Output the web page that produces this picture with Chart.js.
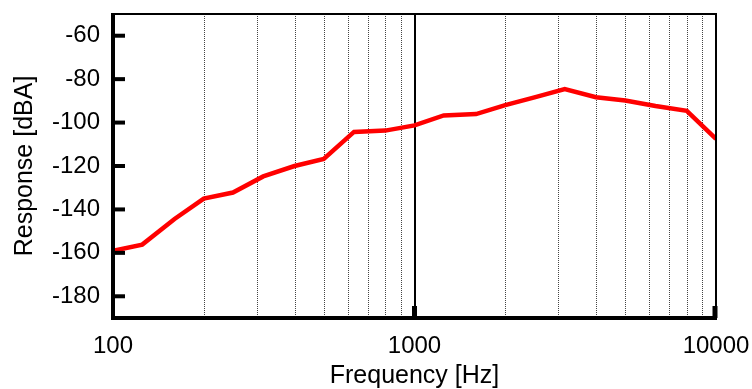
<!DOCTYPE html>
<html>
<head>
<meta charset="utf-8">
<script src="https://cdn.jsdelivr.net/npm/chart.js@4"></script>
<style>
  html, body { margin: 0; padding: 0; background: #fff; }
  #wrap { width: 752px; height: 389px; }
</style>
</head>
<body>
<div id="wrap"><canvas id="responseChart"></canvas></div>
<script>
// Measured response (1/3 octave bands)
const freqs = [100, 125, 160, 200, 250, 315, 400, 500, 630, 800, 1000, 1250, 1600, 2000, 2500, 3150, 4000, 5000, 6300, 8000, 10000];
const response = [-159, -156.2, -144.4, -135, -132.2, -124.8, -120, -116.7, -104.3, -103.7, -101.3, -96.7, -96.1, -92, -88.4, -84.6, -88.3, -89.8, -92.4, -94.6, -107.5];

// Axis ticks and grid
const xTicks = [100, 1000, 10000];
const yTicks = [-180, -160, -140, -120, -100, -80, -60];
const minorGrid = [200, 300, 400, 500, 600, 700, 800, 900, 2000, 3000, 4000, 5000, 6000, 7000, 8000, 9000];
const majorGrid = [1000];

const fontFamily = '"Liberation Sans", Arial, sans-serif';

// draws the gnuplot-ish frame, dotted grid and inward ticks
const framePlugin = {
    id: 'frame',
    beforeDatasetsDraw(chart) {
        const { ctx, chartArea: a, scales: { x } } = chart;
        ctx.save();
        ctx.strokeStyle = '#444';
        ctx.lineWidth = 1;
        ctx.setLineDash([1, 1]);
        minorGrid.forEach(v => {
            const px = Math.round(x.getPixelForValue(v)) + 0.5;
            ctx.beginPath();
            ctx.moveTo(px, a.top);
            ctx.lineTo(px, a.bottom);
            ctx.stroke();
        });
        ctx.setLineDash([]);
        ctx.strokeStyle = '#000';
        ctx.lineWidth = 2;
        majorGrid.forEach(v => {
            const px = Math.round(x.getPixelForValue(v));
            ctx.beginPath();
            ctx.moveTo(px, a.top);
            ctx.lineTo(px, a.bottom);
            ctx.stroke();
        });
        ctx.restore();
    },
    afterDatasetsDraw(chart) {
        const { ctx, chartArea: a, scales: { x, y } } = chart;
        ctx.save();
        ctx.strokeStyle = '#000';
        // top and right edges
        ctx.lineWidth = 2;
        ctx.beginPath();
        ctx.moveTo(a.left, a.top);
        ctx.lineTo(a.right, a.top);
        ctx.lineTo(a.right, a.bottom);
        ctx.stroke();
        // left and bottom axes
        ctx.lineWidth = 4;
        ctx.beginPath();
        ctx.moveTo(a.left, a.top - 1);
        ctx.lineTo(a.left, a.bottom);
        ctx.lineTo(a.right + 1, a.bottom);
        ctx.stroke();
        // inward ticks
        yTicks.forEach(v => {
            const py = y.getPixelForValue(v);
            ctx.beginPath();
            ctx.moveTo(a.left, py);
            ctx.lineTo(a.left + 12, py);
            ctx.stroke();
        });
        ctx.lineWidth = 5;
        xTicks.slice(1).forEach(v => {
            const px = Math.min(x.getPixelForValue(v), a.right - 1);
            ctx.beginPath();
            ctx.moveTo(px, a.bottom);
            ctx.lineTo(px, a.bottom - 12);
            ctx.stroke();
        });
        ctx.restore();
    }
};

const ctx = document.getElementById('responseChart').getContext('2d');
const responseChart = new Chart(ctx, {
    type: 'line',
    data: {
        datasets: [{
            label: 'Response',
            data: freqs.map((f, i) => ({ x: f, y: response[i] })),
            borderColor: '#ff0000',
            borderWidth: 4.5,
            pointRadius: 0,
            tension: 0,
            fill: false
        }]
    },
    options: {
        responsive: true,
        maintainAspectRatio: false,
        animation: false,
        layout: { padding: { top: 14, right: 36, left: 0, bottom: 0 } },
        plugins: {
            legend: { display: false },
            tooltip: { enabled: false }
        },
        scales: {
            x: {
                type: 'logarithmic',
                min: 100,
                max: 10000,
                afterBuildTicks: scale => { scale.ticks = xTicks.map(v => ({ value: v })); },
                afterFit: scale => {
                    scale.height = 71;
                    scale.paddingLeft = 0;
                    scale.paddingRight = 0;
                },
                grid: { display: false, drawTicks: false },
                border: { display: false },
                ticks: {
                    autoSkip: false,
                    maxRotation: 0,
                    padding: 14,
                    color: '#000',
                    font: { family: fontFamily, size: 24 },
                    callback: v => String(v)
                },
                title: {
                    display: true,
                    text: 'Frequency [Hz]',
                    color: '#000',
                    padding: 0,
                    font: { family: fontFamily, size: 25, lineHeight: 1 }
                }
            },
            y: {
                min: -190,
                max: -50,
                afterBuildTicks: scale => { scale.ticks = yTicks.map(v => ({ value: v })); },
                afterFit: scale => {
                    scale.width = 113;
                    scale.paddingTop = 0;
                    scale.paddingBottom = 0;
                },
                grid: { display: false, drawTicks: false },
                border: { display: false },
                ticks: {
                    padding: 13,
                    color: '#000',
                    font: { family: fontFamily, size: 24 }
                },
                title: {
                    display: true,
                    text: 'Response [dBA]',
                    color: '#000',
                    padding: { top: 13, bottom: 0 },
                    font: { family: fontFamily, size: 25, lineHeight: 1 }
                }
            }
        }
    },
    plugins: [framePlugin]
});
</script>
</body>
</html>
